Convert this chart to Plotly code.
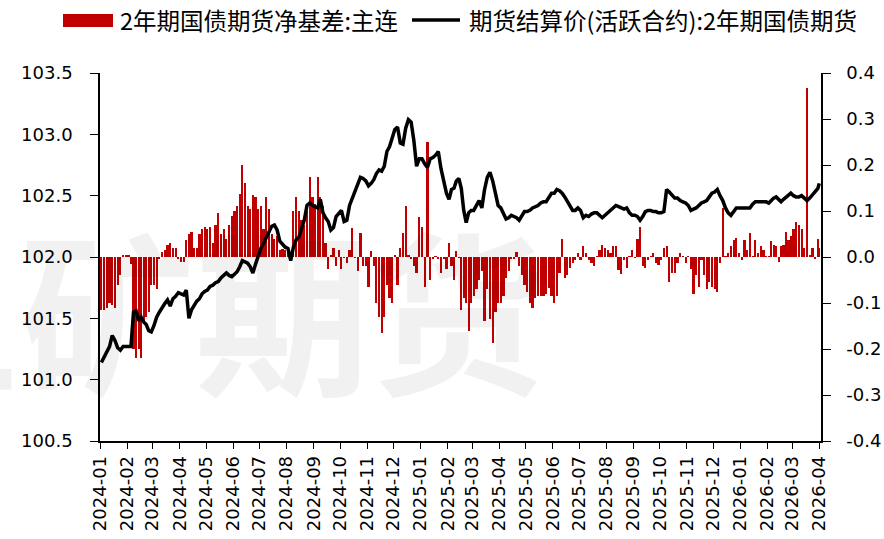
import calendar
import pandas as pd
import plotly.graph_objects as go

# ---------------- data (10 readings per month) ----------------
basis_2024 = [
    -0.115, -0.115, -0.11, -0.10, -0.105, -0.11, -0.06, -0.04, 0.003, 0.004,      # Jan
    0.004, -0.015, -0.20, -0.22, -0.20, -0.22, -0.14, -0.13, -0.12, -0.06,        # Feb
    -0.06, -0.07, -0.005, 0.01, 0.015, 0.026, 0.03, 0.02, 0.02, -0.005,           # Mar
    -0.01, -0.01, 0.037, 0.05, 0.054, 0.02, 0.02, 0.05, 0.06, 0.065,              # Apr
    0.06, 0.065, 0.03, 0.07, 0.096, 0.05, 0.06, 0.04, 0.07, 0.09,                 # May
    0.10, 0.11, 0.138, 0.20, 0.16, 0.11, 0.105, 0.135, 0.13, 0.105,               # Jun
    0.11, 0.06, 0.13, 0.105, 0.05, 0.04, 0.045, 0.015, 0.017, 0.015,              # Jul
    0.02, 0.005, 0.10, 0.13, 0.10, 0.08, 0.07, 0.10, 0.175, 0.13,                 # Aug
    0.115, 0.175, 0.13, 0.11, 0.03, -0.025, 0.005, 0.02, -0.02, 0.015,            # Sep
    -0.026, -0.002, -0.012, 0.015, 0.062, -0.002, -0.03, 0.052, -0.02, -0.02,     # Oct
    -0.066, 0.012, -0.02, -0.10, -0.13, -0.165, -0.13, -0.06, -0.09, -0.10,       # Nov
    0.005, -0.06, 0.02, 0.052, 0.11, 0.003, -0.005, -0.02, -0.035, 0.087,         # Dec
]
basis_2025 = [
    0.065, -0.066, 0.25, -0.05, -0.005, 0.002, -0.005, -0.035, -0.005, -0.025,    # Jan
    0.03, -0.02, -0.05, 0.012, -0.002, -0.115, -0.09, -0.10, -0.16, -0.10,        # Feb
    -0.085, -0.07, -0.05, -0.03, -0.14, -0.07, -0.135, -0.187, -0.12, -0.10,      # Mar
    -0.10, -0.085, -0.045, -0.03, -0.005, -0.005, 0.01, -0.02, -0.04, -0.06,      # Apr
    -0.075, -0.10, -0.11, -0.09, -0.085, -0.085, -0.085, -0.08, -0.067, -0.085,   # May
    -0.10, -0.085, -0.035, 0.04, -0.045, -0.04, -0.024, -0.013, -0.006, 0.008,    # Jun
    -0.006, 0.023, 0.008, -0.006, -0.013, -0.02, 0.002, 0.016, 0.027, 0.02,       # Jul
    0.016, 0.008, 0.023, 0.023, -0.028, -0.038, -0.006, -0.024, 0.002, 0.016,     # Aug
    -0.002, 0.04, 0.066, -0.02, -0.024, -0.006, 0.002, 0.008, -0.013, -0.017,     # Sep
    -0.006, 0.02, 0.023, -0.055, -0.035, -0.035, -0.013, 0.008, 0.002, -0.013,    # Oct
    0.002, -0.027, -0.08, -0.04, -0.065, -0.006, -0.04, -0.07, -0.055, -0.065,    # Nov
    -0.07, -0.075, -0.013, 0.107, 0.002, 0.008, 0.023, 0.038, 0.042, 0.008,       # Dec
]
basis_2026 = [
    -0.006, 0.038, 0.016, 0.052, 0.002, 0.038, 0.008, 0.023, 0.016, 0.002,       # Jan
    0.002, 0.034, 0.027, 0.023, -0.01, 0.023, 0.027, 0.055, 0.038, 0.045,         # Feb
    0.06, 0.077, 0.07, 0.06, 0.02, 0.367, 0.005, 0.02, -0.005, 0.04,              # Mar
    0.02,                                                                         # Apr
]

price_2024 = [
    101.14, 101.18, 101.22, 101.27, 101.36, 101.32, 101.26, 101.24, 101.27, 101.27,
    101.27, 101.27, 101.55, 101.56, 101.48, 101.51, 101.47, 101.45, 101.40, 101.39,
    101.44, 101.51, 101.55, 101.59, 101.62, 101.65, 101.60, 101.66, 101.68, 101.71,
    101.70, 101.69, 101.73, 101.50, 101.57, 101.61, 101.64, 101.66, 101.70, 101.72,
    101.73, 101.76, 101.77, 101.79, 101.80, 101.83, 101.85, 101.87, 101.85, 101.84,
    101.86, 101.88, 101.92, 101.97, 101.96, 101.95, 101.92, 101.87, 101.94, 102.00,
    102.07, 102.11, 102.16, 102.20, 102.25, 102.26, 102.22, 102.13, 102.10, 102.08,
    102.07, 101.97, 102.08, 102.14, 102.16, 102.22, 102.30, 102.42, 102.44, 102.42,
    102.41, 102.40, 102.47, 102.36, 102.32, 102.29, 102.22, 102.24, 102.33, 102.36,
    102.38, 102.29, 102.30, 102.42, 102.48, 102.52, 102.58, 102.65, 102.64, 102.62,
    102.58, 102.60, 102.63, 102.68, 102.71, 102.70, 102.74, 102.86, 102.90, 102.98,
    103.04, 103.06, 102.93, 102.92, 103.05, 103.12, 103.10, 102.95, 102.74, 102.80,
]
price_2025 = [
    102.80, 102.76, 102.73, 102.80, 102.81, 102.83, 102.86, 102.72, 102.62, 102.52,
    102.47, 102.55, 102.56, 102.62, 102.64, 102.56, 102.38, 102.28, 102.36, 102.38,
    102.38, 102.42, 102.46, 102.40, 102.55, 102.65, 102.69, 102.62, 102.52, 102.42,
    102.40, 102.35, 102.31, 102.32, 102.34, 102.33, 102.32, 102.30, 102.34, 102.37,
    102.37, 102.38, 102.40, 102.41, 102.42, 102.44, 102.45, 102.45, 102.48, 102.52,
    102.52, 102.55, 102.54, 102.52, 102.49, 102.45, 102.42, 102.38, 102.38, 102.40,
    102.38, 102.32, 102.34, 102.33, 102.35, 102.36, 102.36, 102.34, 102.32, 102.34,
    102.36, 102.38, 102.40, 102.42, 102.41, 102.40, 102.39, 102.40, 102.36, 102.34,
    102.34, 102.33, 102.30, 102.33, 102.37, 102.38, 102.38, 102.37, 102.37, 102.36,
    102.36, 102.37, 102.55, 102.53, 102.50, 102.48, 102.48, 102.46, 102.45, 102.44,
    102.42, 102.38, 102.39, 102.40, 102.42, 102.44, 102.45, 102.46, 102.49, 102.52,
    102.53, 102.55, 102.50, 102.46, 102.40, 102.36, 102.34, 102.37, 102.40, 102.40,
]
price_2026 = [
    102.40, 102.40, 102.40, 102.40, 102.43, 102.45, 102.45, 102.45, 102.45, 102.45,
    102.44, 102.46, 102.48, 102.49, 102.47, 102.45, 102.47, 102.49, 102.51, 102.52,
    102.50, 102.49, 102.49, 102.50, 102.48, 102.46, 102.48, 102.51, 102.54, 102.56,
    102.60,
]

last_date = "2026-04-01"
bar_name = "2年期国债期货净基差:主连"
line_name = "期货结算价(活跃合约):2年期国债期货"
left_ticks = [100.5, 101.0, 101.5, 102.0, 102.5, 103.0, 103.5]
right_ticks = [-0.4, -0.3, -0.2, -0.1, 0.0, 0.1, 0.2, 0.3, 0.4]
watermark = "五矿期货"

# ---------------- dates ----------------
def month_dates(year, month, n=10):
    start = pd.Timestamp(year, month, 1)
    days = calendar.monthrange(year, month)[1]
    return [start + pd.Timedelta(days=days * (i + 0.5) / n) for i in range(n)]

dates = []
for y, months in ((2024, range(1, 13)), (2025, range(1, 13)), (2026, range(1, 4))):
    for m in months:
        dates += month_dates(y, m)
dates.append(pd.Timestamp(last_date))

basis = basis_2024 + basis_2025 + basis_2026
price = price_2024 + price_2025 + price_2026
assert len(dates) == len(basis) == len(price)

RED = "#C00000"
FONT = "DejaVu Sans"
CJK = "Noto Sans CJK SC"

fig = go.Figure()
fig.add_trace(go.Bar(x=dates, y=basis, name=bar_name, marker=dict(color=RED, line=dict(width=0)),
                     width=2.5 * 86400000, yaxis="y", showlegend=False))
fig.add_trace(go.Scatter(x=dates, y=price, name=line_name, mode="lines",
                         line=dict(color="black", width=3.5), yaxis="y2", showlegend=False))

axis_common = dict(showline=True, linecolor="black", linewidth=1.5, ticks="outside",
                   tickcolor="black", ticklen=8, showgrid=False, zeroline=False, automargin=False,
                   tickfont=dict(family=FONT, size=18, color="black"))

fig.update_layout(
    width=884, height=539,
    margin=dict(l=100, r=63, t=73, b=98),
    paper_bgcolor="white", plot_bgcolor="white",
    bargap=0,
    xaxis=dict(type="date", range=["2024-01-01", "2026-04-03"], tick0="2024-01-01", dtick="M1",
               tickformat="%Y-%m", tickangle=-90, **{**axis_common, "ticklen": 6}),
    yaxis=dict(side="right", range=[-0.4, 0.4], tickvals=right_ticks,
               ticktext=[f"{v:.1f}" for v in right_ticks],
               ticklabelstandoff=12, **axis_common),
    yaxis2=dict(side="left", overlaying="y", range=[100.5, 103.5], tickvals=left_ticks,
                ticktext=[f"{v:.1f}" for v in left_ticks], ticklabelstandoff=14, **axis_common),
)

# custom legend
fig.add_shape(type="rect", xref="paper", yref="paper", xsizemode="pixel", ysizemode="pixel",
              xanchor=0, yanchor=1, x0=-37, x1=13, y0=46, y1=59, fillcolor=RED, line=dict(width=0))
fig.add_shape(type="line", xref="paper", yref="paper", xsizemode="pixel", ysizemode="pixel",
              xanchor=0, yanchor=1, x0=312, x1=360, y0=53, y1=53, line=dict(color="black", width=3.5))
fig.add_annotation(text=bar_name, xref="paper", yref="paper", x=(118 - 100) / 721, y=1 + 53 / 368,
                   xanchor="left", yanchor="middle", showarrow=False,
                   font=dict(family=CJK, size=23.5, color="black"))
fig.add_annotation(text=line_name, xref="paper", yref="paper", x=(467 - 100) / 721, y=1 + 53 / 368,
                   xanchor="left", yanchor="middle", showarrow=False,
                   font=dict(family=CJK, size=23.5, color="black"))
# watermark
fig.add_annotation(text=watermark, xref="paper", yref="paper", x=(195 - 100) / 721, y=(441 - 305) / 368,
                   xanchor="center", yanchor="middle", showarrow=False,
                   font=dict(family=CJK, size=175, weight="bold", color="rgba(0,0,0,0.055)"))

fig.write_html("out.html", config={"displayModeBar": False},
               post_script="document.body.style.margin='0';")
